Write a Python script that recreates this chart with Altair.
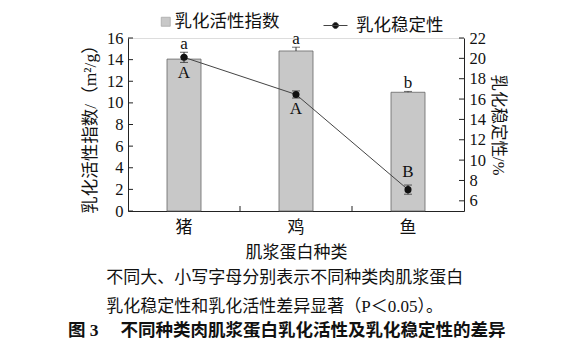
import altair as alt
import pandas as pd

categories = ['猪', '鸡', '鱼']
eai = [14.05, 14.8, 10.98]          # 乳化活性指数 (m2/g)
eai_err = [0.2, 0.35, 0.08]
es = [20.1, 16.45, 7.1]             # 乳化稳定性 (%)
es_err = [0.5, 0.35, 0.45]
eai_letters = ['a', 'a', 'b']
es_letters = ['A', 'A', 'B']
left_ticks = [0, 2, 4, 6, 8, 10, 12, 14, 16]
right_ticks = [6, 8, 10, 12, 14, 16, 18, 20, 22]
x_tick_cats = ['鸡', '鱼']
left_domain = [0, 16]
right_domain = [5, 22]

W, H = 336, 173
SERIF = "Liberation Serif, Noto Sans CJK SC"
NB = '\u200b' + '\u00a0' * 9

rows = []
for i, c in enumerate(categories):
    pt_top_left = (es[i] + es_err[i] - right_domain[0]) / (right_domain[1] - right_domain[0]) * (left_domain[1] - left_domain[0])
    rows.append(dict(cat=c, eai=eai[i], eai_hi=eai[i] + eai_err[i],
                     ltop=max(eai[i] + eai_err[i], pt_top_left),
                     es=es[i], es_lo=es[i] - es_err[i], es_hi=es[i] + es_err[i],
                     lo_letter=eai_letters[i], up_letter=es_letters[i],
                     s1='乳化活性指数', s2='乳化稳定性'))
df = pd.DataFrame(rows)

xs = alt.Scale(domain=categories, paddingInner=0, paddingOuter=0)
x_axis = alt.Axis(title='肌浆蛋白种类', labelAngle=0, ticks=False,
                  labelPadding=8, titlePadding=9, labelFont=SERIF,
                  labelFontSize=17, titleFont=SERIF, titleFontSize=17,
                  titleFontWeight='normal', domainColor='#222',
                  labelColor='#111', titleColor='#111')
X = alt.X('cat:N', scale=xs, sort=categories, axis=x_axis)

ls = alt.Scale(domain=left_domain, nice=False, zero=False)
rs = alt.Scale(domain=right_domain, nice=False, zero=False)
l_axis = alt.Axis(orient='left', title='乳化活性指数/（m²/g）', values=left_ticks,
                  ticks=False, grid=False, labelPadding=5, titlePadding=7,
                  labelFont=SERIF, labelFontSize=16.5, titleFont=SERIF,
                  titleFontSize=17.5, titleFontWeight='normal',
                  domainColor='#222', labelColor='#111', titleColor='#111')
r_axis = alt.Axis(orient='right', title='乳化稳定性/%', values=right_ticks,
                  ticks=False, grid=False, labelPadding=5, titlePadding=4,
                  labelFont=SERIF, labelFontSize=16.5, titleFont=SERIF,
                  titleFontSize=16.5, titleFontWeight='normal',
                  domainColor='#222', labelColor='#111', titleColor='#111')


def LY(f):
    return alt.Y(f, scale=ls, axis=l_axis)


def RY(f):
    return alt.Y(f, scale=rs, axis=r_axis)


base = alt.Chart(df)

bars = base.mark_bar(size=34, stroke='#666', strokeWidth=0.8).encode(
    x=X, y=LY('eai:Q'),
    fill=alt.Fill('s1:N', scale=alt.Scale(domain=['乳化活性指数'], range=['#c8c8c8']),
                  legend=alt.Legend(orient='none', legendX=29, legendY=-25, title=None,
                                    symbolType='square', symbolSize=81, symbolStrokeColor='#aaa',
                                    symbolStrokeWidth=0.8, labelOffset=0, padding=0,
                                    labelFont="Noto Sans CJK SC", labelFontSize=17.5,
                                    labelColor='#111')),
)
bar_err = base.mark_rule(color='#333', strokeWidth=1).encode(
    x=X, y=LY('eai:Q'), y2='eai_hi:Q')
bar_cap = base.mark_tick(color='#333', size=8, thickness=1).encode(
    x=X, y=LY('eai_hi:Q'))
lo_text = base.mark_text(font=SERIF, fontSize=17, baseline='alphabetic', dy=-3, color='#111').encode(
    x=X, y=LY('ltop:Q'), text='lo_letter:N')
lticks = alt.Chart(pd.DataFrame({'t': left_ticks})).mark_rule(color='#222').encode(
    y=LY('t:Q'), x=alt.value(0), x2=alt.value(5))
xticks = alt.Chart(pd.DataFrame({'cat': x_tick_cats})).mark_rule(color='#222').encode(
    x=alt.X('cat:N', scale=xs, sort=categories, axis=x_axis, bandPosition=0),
    y=alt.value(H), y2=alt.value(H - 5))

left = alt.layer(bars, bar_err, bar_cap, lo_text, lticks, xticks)

line_path = "M-1,0H1M0.25,0A0.25,0.25,0,1,1,-0.25,0A0.25,0.25,0,1,1,0.25,0"
line = base.mark_line(strokeWidth=1).encode(
    x=X, y=RY('es:Q'),
    stroke=alt.Stroke('s2:N', scale=alt.Scale(domain=['乳化稳定性'], range=['#444']),
                      legend=alt.Legend(orient='none', legendX=195, legendY=-25, title=None,
                                        symbolType=line_path, symbolSize=576,
                                        symbolFillColor='#111', symbolStrokeWidth=1,
                                        labelOffset=8, padding=0,
                                        labelFont="Noto Sans CJK SC", labelFontSize=17.5,
                                        labelColor='#111')),
)
pt_err = base.mark_rule(color='#222', strokeWidth=1).encode(
    x=X, y=RY('es_lo:Q'), y2='es_hi:Q')
pt_cap_hi = base.mark_tick(color='#222', size=8, thickness=1).encode(
    x=X, y=RY('es_hi:Q'))
pt_cap_lo = base.mark_tick(color='#222', size=8, thickness=1).encode(
    x=X, y=RY('es_lo:Q'))
pts = base.mark_circle(size=50, color='#111', opacity=1).encode(
    x=X, y=RY('es:Q'))
up_below = base.transform_filter(alt.datum.cat != categories[2]).mark_text(
    font=SERIF, fontSize=17, baseline='top', dy=3, color='#111').encode(
    x=X, y=RY('es_lo:Q'), text='up_letter:N')
up_above = base.transform_filter(alt.datum.cat == categories[2]).mark_text(
    font=SERIF, fontSize=17, baseline='bottom', dy=-4, color='#111').encode(
    x=X, y=RY('es_hi:Q'), text='up_letter:N')
rticks = alt.Chart(pd.DataFrame({'t': right_ticks})).mark_rule(color='#222').encode(
    y=RY('t:Q'), x=alt.value(W - 5), x2=alt.value(W))

right = alt.layer(line, pt_err, pt_cap_hi, pt_cap_lo, pts, up_below, up_above, rticks)

chart = alt.layer(left, right).resolve_scale(y='independent', fill='independent', stroke='independent').properties(
    width=W, height=H,
    autosize=alt.AutoSizeParams(type='none'),
    padding={'left': 128, 'top': 38, 'right': 565 - 128 - W, 'bottom': 351 - 38 - H},
    title=alt.TitleParams(
        text=[NB + '不同大、小写字母分别表示不同种类肉肌浆蛋白',
              NB + '乳化稳定性和乳化活性差异显著（P＜0.05）。'],
        subtitle='图 3\u3000 不同种类肉肌浆蛋白乳化活性及乳化稳定性的差异',
        orient='bottom', anchor='start', frame='group', dx=-60, offset=10,
        font=SERIF, fontSize=17, fontWeight='normal', lineHeight=29, color='#111',
        subtitleFont=SERIF, subtitleFontSize=17.5, subtitleFontWeight='bold',
        subtitleColor='#111', subtitlePadding=6),
).configure_view(stroke=None).configure(background='white')

chart.save("out.html", embed_options={"renderer": "svg", "actions": False})
